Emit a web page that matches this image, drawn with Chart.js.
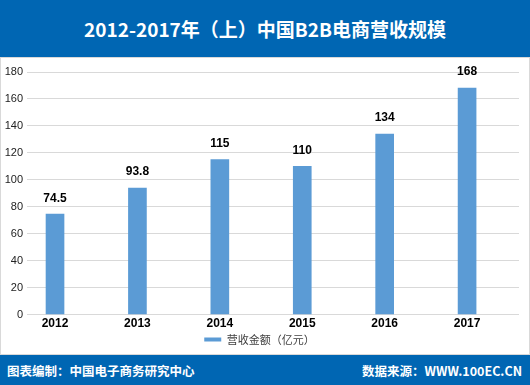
<!DOCTYPE html>
<html>
<head>
<meta charset="utf-8">
<script src="https://cdn.jsdelivr.net/npm/chart.js@4"></script>
<style>
  html, body { margin: 0; padding: 0; background: #fff; }
  #wrap { position: relative; width: 530px; height: 385px; overflow: hidden; font-family: "Noto Sans CJK SC", sans-serif; }
  #head { position: absolute; left: 0; top: 0; width: 530px; height: 57px; background: #0066b3; color: #fff;
          font-weight: bold; font-size: 19px; line-height: 57px; text-align: center; }
  #box { position: absolute; left: 0; top: 57px; width: 528px; height: 296px; border: 1px solid #d9d9d9; }
  #foot { position: absolute; left: 0; top: 355px; width: 530px; height: 30px; background: #0066b3; color: #fff;
          font-weight: bold; font-size: 12.5px; line-height: 32px; }
  #foot .l { position: absolute; left: 7px; }
  #foot .r { position: absolute; right: 8px; }
  canvas { position: absolute; left: 0; top: 57px; }
</style>
</head>
<body>
<div id="wrap">
  <div id="head">2012-2017年（上）中国B2B电商营收规模</div>
  <div id="box"></div>
  <canvas id="c"></canvas>
  <div id="foot"><span class="l">图表编制：中国电子商务研究中心</span><span class="r">数据来源：WWW.100EC.CN</span></div>
</div>
<script>
const years = ['2012', '2013', '2014', '2015', '2016', '2017'];
const revenue = [74.5, 93.8, 115, 110, 134, 168];
const yTicks = [0, 20, 40, 60, 80, 100, 120, 140, 160, 180];
const seriesName = '营收金额（亿元）';

const canvas = document.getElementById('c');
canvas.width = 530;
canvas.height = 298;
canvas.style.width = '530px';
canvas.style.height = '298px';
const ctx = canvas.getContext('2d');

// value above each bar
const valueLabels = {
  id: 'valueLabels',
  afterDatasetsDraw(chart) {
    const c = chart.ctx;
    const meta = chart.getDatasetMeta(0);
    c.save();
    c.font = 'bold 12px "Liberation Sans", Arial, sans-serif';
    c.fillStyle = '#000';
    c.textAlign = 'center';
    c.textBaseline = 'middle';
    meta.data.forEach((bar, i) => {
      c.fillText(String(revenue[i]), bar.x, bar.y - 16);
    });
    c.restore();
  }
};

new Chart(ctx, {
  type: 'bar',
  data: {
    datasets: [{
      label: seriesName,
      data: revenue.map((v, i) => ({ x: i, y: v })),
      backgroundColor: '#5b9bd5',
      borderWidth: 0,
      barThickness: 18
    }]
  },
  options: {
    responsive: false,
    animation: false,
    layout: { padding: { top: 15, right: 11, left: 0, bottom: 0 } },
    scales: {
      x: {
        type: 'linear',
        offset: false,
        min: -0.34,
        max: 5.63,
        grid: { display: false, drawTicks: false },
        border: { display: false },
        afterBuildTicks: (s) => { s.ticks = years.map((_, i) => ({ value: i })); },
        ticks: {
          autoSkip: false,
          maxRotation: 0,
          padding: 2,
          color: '#000',
          font: { family: '"Liberation Sans", Arial, sans-serif', size: 12, weight: 'bold' },
          callback: (v) => years[v]
        }
      },
      y: {
        min: 0,
        max: 180,
        grid: { color: '#d9d9d9', drawTicks: false },
        border: { display: false },
        afterBuildTicks: (s) => { s.ticks = yTicks.map(v => ({ value: v })); },
        afterFit: (s) => { s.width = 27; },
        ticks: {
          padding: 4,
          color: '#222',
          font: { family: '"Liberation Sans", Arial, sans-serif', size: 11 }
        }
      }
    },
    plugins: {
      legend: {
        position: 'bottom',
        labels: {
          boxWidth: 17,
          boxHeight: 4,
          padding: 1,
          color: '#404040',
          font: { family: '"Noto Sans CJK SC", sans-serif', size: 11 }
        }
      },
      tooltip: { enabled: false }
    }
  },
  plugins: [valueLabels]
});
</script>
</body>
</html>
